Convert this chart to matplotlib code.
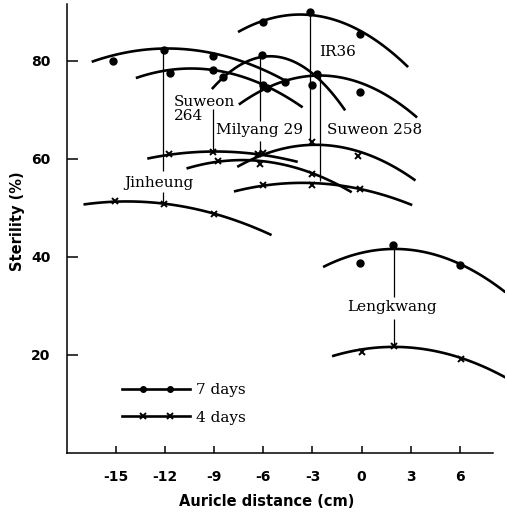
import numpy as np
import matplotlib
matplotlib.use("Agg")
import matplotlib.pyplot as plt
from matplotlib.lines import Line2D
from matplotlib.legend_handler import HandlerLine2D

# points read along each drawn (fitted) curve: (x, y)
# 7 days
jinheung_7 = ([-16.5, -12.1, -9.1, -6.4, -4.7], [79.9, 82.4, 81.4, 79.4, 75.7])
suweon264_7 = ([-13.8, -12.3, -9.1, -7.7, -3.6], [76.3, 78.2, 78.2, 77.0, 70.6])
milyang29_7 = ([-9.15, -8.5, -6.1, -3.05, -1.0], [73.9, 76.8, 81.2, 77.0, 70.2])
suweon258_7 = ([-7.5, -6.0, -3.0, 0.3, 3.4], [70.8, 74.6, 77.0, 74.8, 68.6])
ir36_7 = ([-7.55, -6.0, -3.15, -0.1, 2.85], [85.9, 88.0, 90.1, 85.5, 79.0])
lengkwang_7 = ([-2.35, 1.9, 6.0, 8.8], [37.9, 41.8, 38.4, 32.9])
# 4 days
jinheung_4 = ([-17.0, -15.1, -12.1, -9.0, -5.5], [50.6, 51.5, 50.8, 48.8, 44.5])
suweon264_4 = ([-13.1, -11.8, -9.1, -6.3, -3.9], [60.0, 61.0, 61.4, 61.0, 59.4])
milyang29_4 = ([-10.7, -8.8, -6.2, -3.0, -0.6], [58.0, 59.5, 59.7, 56.9, 53.3])
ir36_4 = ([-7.6, -6.2, -3.0, -0.2, 3.3], [58.0, 61.0, 63.5, 60.7, 55.9])
suweon258_4 = ([-7.8, -6.0, -3.0, -0.1, 3.1], [53.3, 54.7, 55.0, 53.9, 50.6])
lengkwang_4 = ([-1.8, 2.0, 6.1, 8.8], [19.7, 21.8, 19.2, 15.5])

# observed points
dots_x = [-15.2, -12.1, -9.1, -11.7, -9.1, -8.5, -6.1, -6.0, -5.8, -4.7,
          -3.0, -2.7, -0.1, -6.0, -3.15, -0.1, -0.1, 1.9, 6.0]
dots_y = [80.0, 82.3, 81.1, 77.5, 78.2, 76.8, 81.2, 75.1, 74.5, 75.8,
          75.1, 77.3, 73.6, 88.0, 90.1, 85.5, 38.7, 42.4, 38.4]
cross_x = [-15.1, -12.1, -9.0, -11.8, -9.1, -6.3, -8.8, -6.2, -3.0,
           -6.0, -3.0, -0.2, -6.0, -3.0, -0.1, 0.0, 2.0, 6.1]
cross_y = [51.5, 50.8, 48.8, 61.0, 61.4, 61.0, 59.5, 59.0, 56.9,
           61.3, 63.5, 60.7, 54.7, 54.6, 53.9, 20.6, 21.8, 19.2]

# vertical optimum lines: x, y_top, y_bottom
opt_x = [-12.15, -12.15, -9.08, -6.2, -6.2, -3.15, -2.55, 2.0, 2.0]
opt_top = [82.4, 53.3, 70.2, 81.1, 63.6, 90.2, 77.3, 41.8, 27.3]
opt_bot = [57.6, 50.8, 61.4, 67.8, 61.0, 63.5, 55.5, 31.8, 21.8]

# labels
names = ["IR36", "Suweon\n264", "Milyang 29", "Suweon 258", "Jinheung", "Lengkwang"]
name_x = [-2.6, -11.5, -8.9, -2.1, -14.5, -0.9]
name_y = [81.8, 70.2, 66.0, 66.0, 55.0, 29.8]


class FullLineHandler(HandlerLine2D):
    """Line over the full handle length with two markers on it."""

    def create_artists(self, legend, orig_handle, xdescent, ydescent,
                       width, height, fontsize, trans):
        y = height / 2 - ydescent
        line = Line2D([-xdescent, -xdescent + width], [y, y], color="black",
                      lw=orig_handle.get_linewidth())
        xm = [-xdescent + 0.31 * width, -xdescent + 0.71 * width]
        marks = Line2D(xm, [y, y], ls="", color="black",
                       marker=orig_handle.get_marker(),
                       ms=orig_handle.get_markersize(),
                       mew=orig_handle.get_markeredgewidth())
        line.set_transform(trans)
        marks.set_transform(trans)
        return [line, marks]


fig = plt.figure(figsize=(5.07, 5.16), dpi=100)
ax = fig.add_axes([67 / 507, 63 / 516, 438.4 / 507, 450.8 / 516])

curves = [jinheung_7, suweon264_7, milyang29_7, suweon258_7, ir36_7, lengkwang_7,
          jinheung_4, suweon264_4, milyang29_4, ir36_4, suweon258_4, lengkwang_4]
for cx, cy in curves:
    coef = np.polyfit(cx, cy, 2)
    xs = np.linspace(min(cx), max(cx), 120)
    ax.plot(xs, np.polyval(coef, xs), color="black", lw=1.9, solid_capstyle="butt")

ax.plot(dots_x, dots_y, "o", color="black", ms=5)
ax.plot(cross_x, cross_y, "x", color="black", ms=5, mew=1.4)
ax.vlines(opt_x, opt_bot, opt_top, color="black", lw=0.9)

serif = ["DejaVu Serif"]
for t, x, y in zip(names, name_x, name_y):
    ax.text(x, y, t, family=serif, fontsize=11, ha="left", va="center",
            linespacing=1.05)

# legend
h7 = Line2D([], [], color="black", lw=1.9, marker="o", ms=4)
h4 = Line2D([], [], color="black", lw=1.9, marker="x", ms=5, mew=1.4)
ax.legend([h7, h4], ["7 days", "4 days"], loc="upper left",
          bbox_to_anchor=(0.111, 0.169), frameon=False,
          handlelength=4.45, handletextpad=0.4, labelspacing=0.9,
          prop={"family": serif, "size": 11}, borderaxespad=0,
          handler_map={Line2D: FullLineHandler()})

ax.set_xlim(-18.01, 8.8)
ax.set_ylim(0, 92)
ax.spines["top"].set_visible(False)
ax.spines["right"].set_visible(False)
ax.spines["bottom"].set_bounds(-18.01, 8.05)
ax.spines["left"].set_bounds(0, 91.6)
for s in ("bottom", "left"):
    ax.spines[s].set_linewidth(1.1)

ax.set_xticks([-15, -12, -9, -6, -3, 0, 3, 6])
ax.set_xticklabels(["-15", "-12", "-9", "-6", "-3", "0", "3", "6"])
ax.set_yticks([20, 40, 60, 80])
ax.tick_params(direction="in", width=1.1, labelsize=10)
ax.tick_params(axis="x", length=5, pad=12)
ax.tick_params(axis="y", length=8, pad=12)
for lab in ax.get_xticklabels() + ax.get_yticklabels():
    lab.set_fontweight("bold")

fig.text(267 / 507, 1 - 501 / 516, "Auricle distance (cm)", ha="center",
         va="center", fontsize=10.5, fontweight="bold")
fig.text(18 / 507, 1 - 221 / 516, "Sterility (%)", ha="center", va="center",
         rotation=90, fontsize=10.5, fontweight="bold")

fig.savefig("out.png", dpi=100)
